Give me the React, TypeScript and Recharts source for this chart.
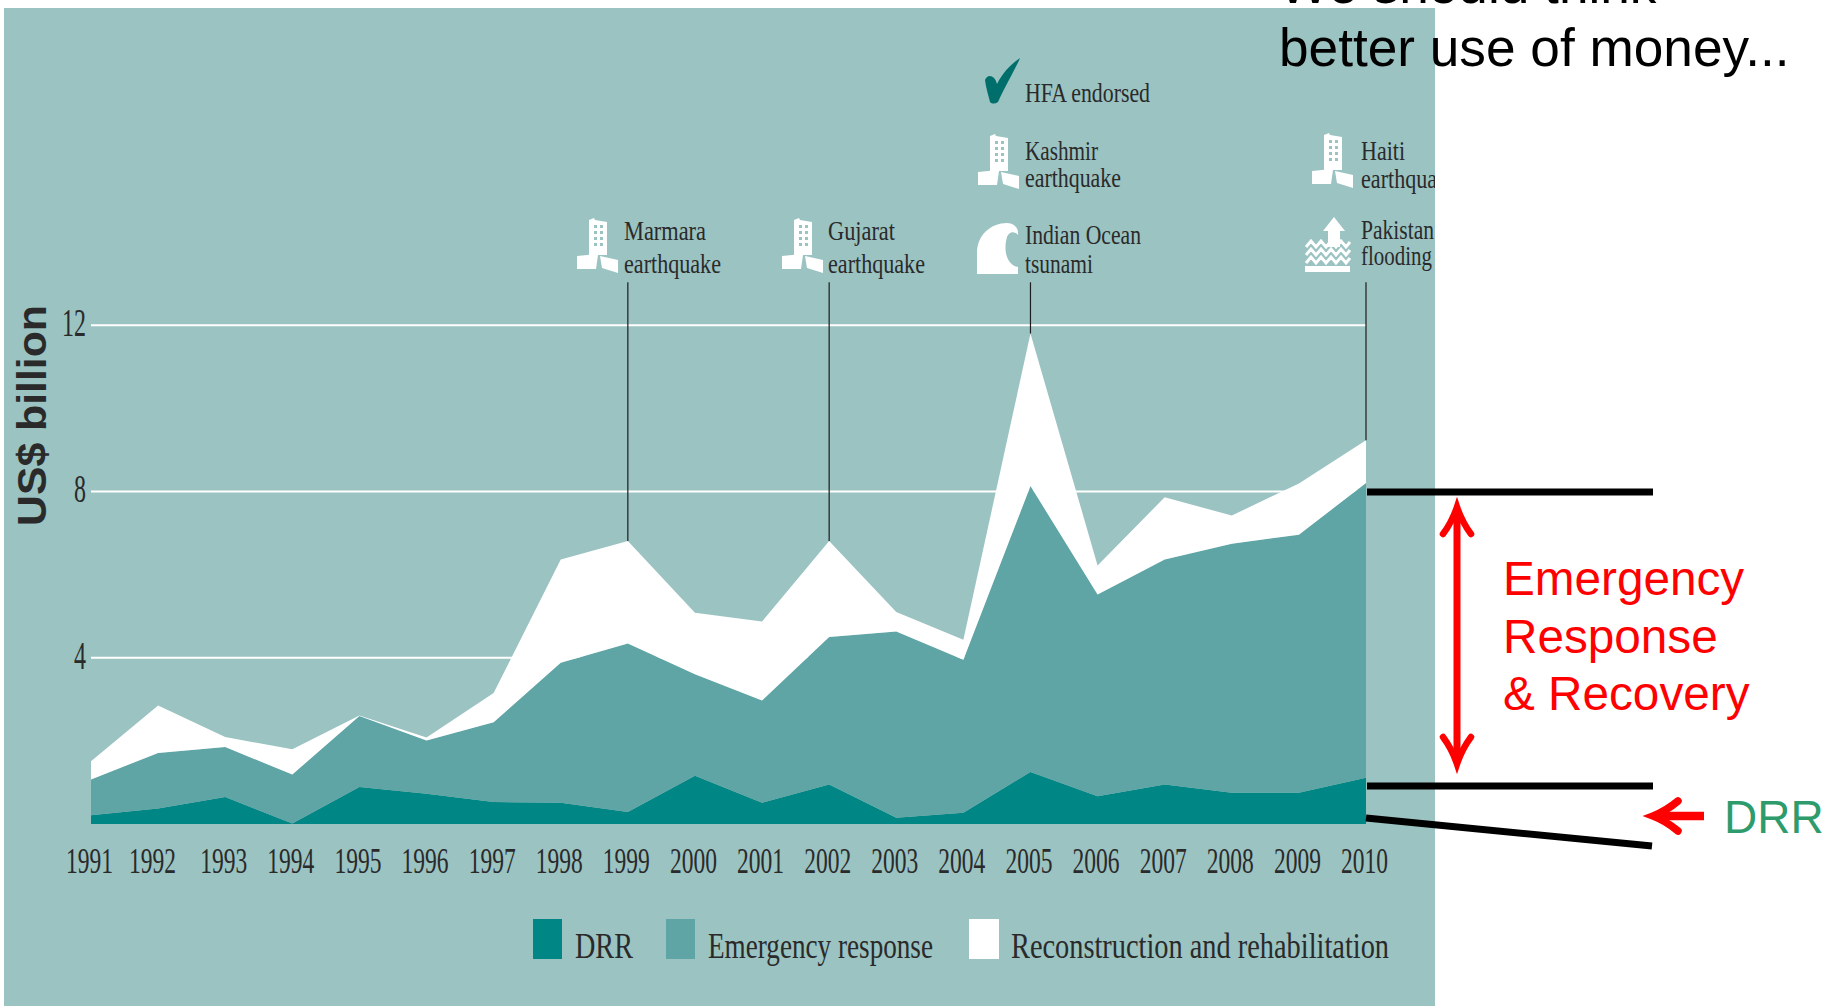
import React from "react";
import { AreaChart, Area, XAxis, YAxis, CartesianGrid, ReferenceLine, Legend } from "recharts";

const years = [1991, 1992, 1993, 1994, 1995, 1996, 1997, 1998, 1999, 2000, 2001, 2002, 2003, 2004, 2005, 2006, 2007, 2008, 2009, 2010];
const drr = [0.21, 0.37, 0.65, 0.01, 0.89, 0.73, 0.53, 0.51, 0.29, 1.16, 0.51, 0.95, 0.15, 0.27, 1.25, 0.67, 0.95, 0.75, 0.75, 1.11];
const emergency = [0.86, 1.34, 1.2, 1.18, 1.71, 1.28, 1.92, 3.37, 4.05, 2.44, 2.46, 3.55, 4.48, 3.68, 6.88, 4.85, 5.41, 5.99, 6.21, 7.09];
const reconstruction = [0.44, 1.14, 0.24, 0.61, 0.01, 0.07, 0.7, 2.48, 2.47, 1.48, 1.9, 2.31, 0.47, 0.48, 3.67, 0.7, 1.5, 0.68, 1.23, 1.03];
const yTicks = [4, 8, 12];
const eventYears = [1999, 2002, 2005, 2010];
const eventTop = 13.03;

const PANEL = "#9ac3c2";
const DRR_C = "#008684";
const EMG_C = "#5fa5a5";
const INK = "#2a2a2a";
const SERIF = "'Liberation Serif', serif";
const SANS = "'Liberation Sans', Arial, sans-serif";

const data = years.map((year, i) => ({
  year,
  drr: drr[i],
  emergency: emergency[i],
  reconstruction: reconstruction[i],
}));

function Squeezed({ x, y, w, size = 28, children, anchor = "start", fill = INK }: any) {
  return (
    <text x={x} y={y} fontFamily={SERIF} fontSize={size} fill={fill} textAnchor={anchor} textLength={w} lengthAdjust="spacingAndGlyphs">
      {children}
    </text>
  );
}

const XTick = ({ x, payload }: any) => (
  <Squeezed x={x - (payload.value === 1992 ? 29 : 25)} y={873} w={47} size={35}>
    {String(payload.value)}
  </Squeezed>
);

const YTick = ({ payload, y }: any) => {
  const s = String(payload.value);
  return (
    <Squeezed x={86 - s.length * 12} y={y + 11} w={s.length * 12} size={40}>
      {s}
    </Squeezed>
  );
};

const legendItems = [
  { label: "DRR", color: DRR_C, sx: 533, sw: 29, tx: 575, tw: 58 },
  { label: "Emergency response", color: EMG_C, sx: 666, sw: 29, tx: 708, tw: 225 },
  { label: "Reconstruction and rehabilitation", color: "#ffffff", sx: 969, sw: 30, tx: 1011, tw: 378 },
];

const ChartLegend = () => (
  <svg width={1827} height={70} style={{ display: "block" }}>
    {legendItems.map((it) => (
      <g key={it.label}>
        <rect x={it.sx} y={14} width={it.sw} height={40} fill={it.color} />
        <Squeezed x={it.tx} y={53} w={it.tw} size={36}>
          {it.label}
        </Squeezed>
      </g>
    ))}
  </svg>
);

function Building({ x, y }: any) {
  const windows = [];
  for (let r = 0; r < 4; r++) for (let c = 0; c < 2; c++) windows.push(<rect key={`${r}${c}`} x={17 + c * 6} y={7 + r * 6} width={3} height={3} fill={PANEL} />);
  return (
    <g transform={`translate(${x},${y})`}>
      <polygon points="12,2 17,0 18,2 30,4 30,37 12,37" fill="#fff" />
      {windows}
      <polygon points="0,38 20,36 21,37 19,51 0,51" fill="#fff" />
      <polygon points="23,38 41,42 41,55 25,50" fill="#fff" />
    </g>
  );
}

const Overlay = () => (
  <svg width={1827} height={1006} style={{ position: "absolute", left: 0, top: 0, pointerEvents: "none" }}>
    <defs>
      <clipPath id="panelClip">
        <rect x={4} y={8} width={1431} height={998} />
      </clipPath>
    </defs>

    <text transform="translate(46,526) rotate(-90)" fontFamily={SANS} fontWeight="bold" fontSize={40} fill={INK} textLength={221} lengthAdjust="spacingAndGlyphs">
      US$ billion
    </text>

    <Building x={577} y={218} />
    <Squeezed x={624} y={240} w={82}>Marmara</Squeezed>
    <Squeezed x={624} y={273} w={97}>earthquake</Squeezed>

    <Building x={782} y={218} />
    <Squeezed x={828} y={240} w={67}>Gujarat</Squeezed>
    <Squeezed x={828} y={273} w={97}>earthquake</Squeezed>

    <path transform="translate(985,58)" d="M0,22 C3,15 10,18 12,26 C18,14 26,6 35,0 C31,10 20,28 13,44 C10,46 7,46 5,44 C3,36 1,30 0,22Z" fill="#006e6b" />
    <Squeezed x={1025} y={102} w={125}>HFA endorsed</Squeezed>

    <Building x={978} y={134} />
    <Squeezed x={1025} y={160} w={73}>Kashmir</Squeezed>
    <Squeezed x={1025} y={187} w={96}>earthquake</Squeezed>

    <path transform="translate(977,223)" d="M0,51 L0,30 C0,12 14,0 30,0 C36,0 42,4 41,12 C38,8 32,8 30,14 C26,28 30,42 41,44 L41,51 Z" fill="#fff" />
    <Squeezed x={1025} y={244} w={116}>Indian Ocean</Squeezed>
    <Squeezed x={1025} y={273} w={68}>tsunami</Squeezed>

    <Building x={1312} y={133} />
    <Squeezed x={1361} y={160} w={44}>Haiti</Squeezed>
    <g clipPath="url(#panelClip)">
      <Squeezed x={1361} y={188} w={97}>earthquake</Squeezed>
    </g>

    <g transform="translate(1305,217)" fill="#fff">
      <polygon points="29,0 40,14 35,14 35,30 23,30 23,14 18,14" />
      <polyline points="1,30 6,24 11,30 16,24 21,30 26,24 31,30 36,24 41,30 45,25" fill="none" stroke="#fff" strokeWidth={3} />
      <polyline points="1,38 6,32 11,38 16,32 21,38 26,32 31,38 36,32 41,38 45,33" fill="none" stroke="#fff" strokeWidth={3} />
      <polyline points="1,46 6,40 11,46 16,40 21,46 26,40 31,46 36,40 41,46 45,41" fill="none" stroke="#fff" strokeWidth={3} />
      <rect x={0} y={49} width={45} height={6} />
    </g>
    <Squeezed x={1361} y={239} w={73}>Pakistan</Squeezed>
    <Squeezed x={1361} y={265} w={71}>flooding</Squeezed>

    <text x={1279} y={3} fontFamily={SANS} fontSize={53.2} fill="#000">We should think</text>
    <text x={1279} y={66} fontFamily={SANS} fontSize={53.2} fill="#000">better use of money...</text>

    <line x1={1367} y1={492} x2={1653} y2={492} stroke="#000" strokeWidth={7} />
    <line x1={1367} y1={786} x2={1653} y2={786} stroke="#000" strokeWidth={7} />
    <line x1={1366} y1={818} x2={1652} y2={846} stroke="#000" strokeWidth={7} />

    <g fill="none" stroke="#f00" strokeLinecap="round" strokeLinejoin="miter">
      <line x1={1457} y1={510} x2={1457} y2={760} strokeWidth={7} strokeLinecap="butt" />
      <path d="M1443,534 Q1452,522 1457,507 Q1462,522 1471,534" strokeWidth={6.5} />
      <path d="M1443,737 Q1452,749 1457,764 Q1462,749 1471,737" strokeWidth={6.5} />
      <line x1={1655} y1={816} x2={1704} y2={816} strokeWidth={8.5} strokeLinecap="butt" />
      <path d="M1678,801 Q1666,811 1653,816 Q1666,821 1678,831" strokeWidth={7.5} />
    </g>

    <g fontFamily={SANS} fontSize={47.7} fill="#f00">
      <text x={1503} y={595}>Emergency</text>
      <text x={1503} y={653}>Response</text>
      <text x={1503} y={710}>&amp; Recovery</text>
    </g>
    <text x={1724} y={833} fontFamily={SANS} fontSize={46} fill="#2e9b6c">DRR</text>
  </svg>
);

export default function App() {
  return (
    <div style={{ position: "absolute", left: 0, top: 0, width: 1827, height: 1006, overflow: "hidden", background: "#fff" }}>
      <div style={{ position: "absolute", left: 4, top: 8, width: 1431, height: 998, background: PANEL }} />
      <div style={{ position: "absolute", left: 0, top: 0 }}>
        <AreaChart width={1827} height={1006} data={data} margin={{ top: 242, right: 461, bottom: 132, left: 31 }}>
          <CartesianGrid vertical={false} stroke="#ffffff" strokeWidth={2} horizontalValues={yTicks} />
          <XAxis
            dataKey="year"
            type="number"
            domain={[1991, 2010]}
            ticks={years}
            interval={0}
            height={50}
            axisLine={false}
            tickLine={false}
            tick={<XTick />}
          />
          <YAxis type="number" domain={[0, 14]} ticks={yTicks} width={60} axisLine={false} tickLine={false} tick={<YTick />} />
          <Area type="linear" dataKey="drr" name="DRR" stackId="a" stroke="none" fill={DRR_C} fillOpacity={1} isAnimationActive={false} />
          <Area type="linear" dataKey="emergency" name="Emergency response" stackId="a" stroke="none" fill={EMG_C} fillOpacity={1} isAnimationActive={false} />
          <Area type="linear" dataKey="reconstruction" name="Reconstruction and rehabilitation" stackId="a" stroke="none" fill="#ffffff" fillOpacity={1} isAnimationActive={false} />
          {eventYears.map((yr) => {
            const i = years.indexOf(yr);
            return (
              <ReferenceLine
                key={yr}
                segment={[
                  { x: yr, y: eventTop },
                  { x: yr, y: drr[i] + emergency[i] + reconstruction[i] },
                ]}
                stroke="#1c1c1c"
                strokeWidth={1.2}
              />
            );
          })}
          <Legend layout="vertical" align="center" verticalAlign="middle" content={<ChartLegend />} wrapperStyle={{ left: 0, top: 905, width: 1827, height: 70 }} />
        </AreaChart>
      </div>
      <Overlay />
    </div>
  );
}
